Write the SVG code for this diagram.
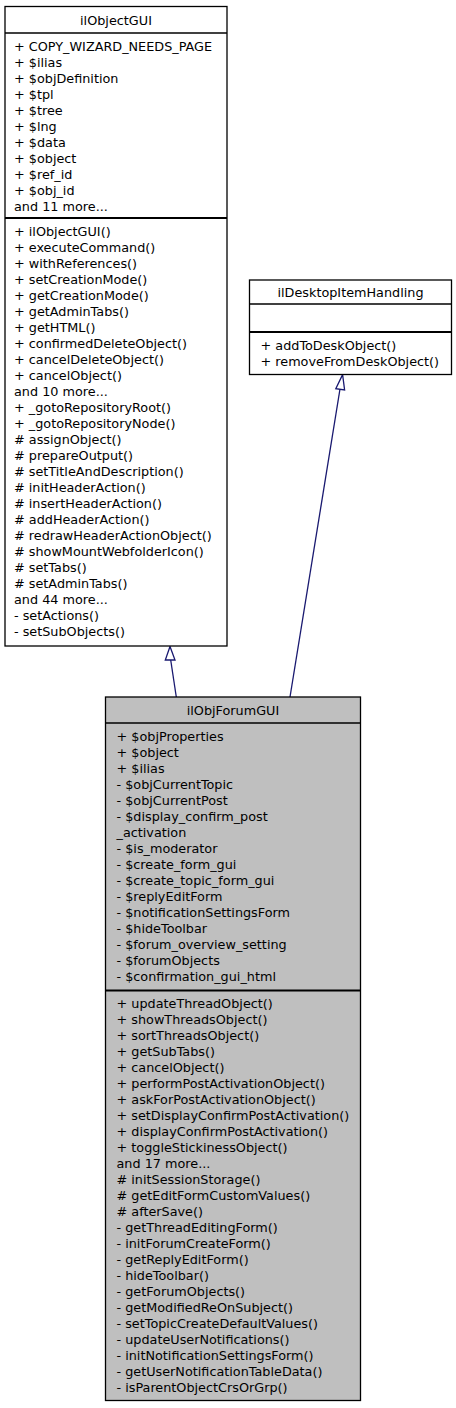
<svg xmlns="http://www.w3.org/2000/svg" width="456" height="1408" viewBox="0 0 456 1408">
<style>
text{font-family:"DejaVu Sans","Liberation Sans",sans-serif;font-size:12.8px;fill:#000}
.t{text-anchor:middle}
.box{stroke:#000;stroke-width:1.3;fill:#fff}
.grey{fill:#bfbfbf}
.sep1{stroke:#000;stroke-width:1.3}
.sep2{stroke:#000;stroke-width:2}
.edge{stroke:#191970;stroke-width:1.3;fill:none}
.head{stroke:#191970;stroke-width:1.3;fill:#fff}
</style>
<rect width="456" height="1408" fill="#fff"/>
<g id="connectors">
<path class="edge" d="M170.7,660 L176.3,697"/>
<polygon class="head" points="170,646.5 165.3,660 175,660"/>
<path class="edge" d="M340,389 L290,697"/>
<polygon class="head" points="342.6,374.6 335.8,388.7 344.6,390"/>
</g>
<g id="ilObjectGUI">
<rect class="box" x="5" y="6.5" width="222" height="639.5"/>
<line class="sep1" x1="5" y1="33" x2="227" y2="33"/>
<line class="sep2" x1="5" y1="218" x2="227" y2="218"/>
<text class="t" x="116" y="24.5">ilObjectGUI</text>
<text x="14" y="51">+ COPY_WIZARD_NEEDS_PAGE</text>
<text x="14" y="67">+ $ilias</text>
<text x="14" y="83">+ $objDefinition</text>
<text x="14" y="99">+ $tpl</text>
<text x="14" y="115">+ $tree</text>
<text x="14" y="131">+ $lng</text>
<text x="14" y="147">+ $data</text>
<text x="14" y="163">+ $object</text>
<text x="14" y="179">+ $ref_id</text>
<text x="14" y="195">+ $obj_id</text>
<text x="14" y="211">and 11 more...</text>
<text x="14" y="236">+ ilObjectGUI()</text>
<text x="14" y="252">+ executeCommand()</text>
<text x="14" y="268">+ withReferences()</text>
<text x="14" y="284">+ setCreationMode()</text>
<text x="14" y="300">+ getCreationMode()</text>
<text x="14" y="316">+ getAdminTabs()</text>
<text x="14" y="332">+ getHTML()</text>
<text x="14" y="348">+ confirmedDeleteObject()</text>
<text x="14" y="364">+ cancelDeleteObject()</text>
<text x="14" y="380">+ cancelObject()</text>
<text x="14" y="396">and 10 more...</text>
<text x="14" y="412">+ _gotoRepositoryRoot()</text>
<text x="14" y="428">+ _gotoRepositoryNode()</text>
<text x="14" y="444"># assignObject()</text>
<text x="14" y="460"># prepareOutput()</text>
<text x="14" y="476"># setTitleAndDescription()</text>
<text x="14" y="492"># initHeaderAction()</text>
<text x="14" y="508"># insertHeaderAction()</text>
<text x="14" y="524"># addHeaderAction()</text>
<text x="14" y="540"># redrawHeaderActionObject()</text>
<text x="14" y="556"># showMountWebfolderIcon()</text>
<text x="14" y="572"># setTabs()</text>
<text x="14" y="588"># setAdminTabs()</text>
<text x="14" y="604">and 44 more...</text>
<text x="14" y="620">- setActions()</text>
<text x="14" y="636">- setSubObjects()</text>
</g>
<g id="ilDesktopItemHandling">
<rect class="box" x="249.5" y="280" width="202" height="94.5"/>
<line class="sep1" x1="249.5" y1="304" x2="451.5" y2="304"/>
<line class="sep2" x1="249.5" y1="332" x2="451.5" y2="332"/>
<text class="t" x="350.5" y="297">ilDesktopItemHandling</text>
<text x="260.5" y="349.5">+ addToDeskObject()</text>
<text x="260.5" y="365.5">+ removeFromDeskObject()</text>
</g>
<g id="ilObjForumGUI">
<rect class="box grey" x="105.5" y="697" width="255" height="703.5"/>
<line class="sep1" x1="105.5" y1="723" x2="360.5" y2="723"/>
<line class="sep2" x1="105.5" y1="990.5" x2="360.5" y2="990.5"/>
<text class="t" x="233" y="715">ilObjForumGUI</text>
<text x="116.5" y="741">+ $objProperties</text>
<text x="116.5" y="757">+ $object</text>
<text x="116.5" y="773">+ $ilias</text>
<text x="116.5" y="789">- $objCurrentTopic</text>
<text x="116.5" y="805">- $objCurrentPost</text>
<text x="116.5" y="821">- $display_confirm_post</text>
<text x="116.5" y="837">_activation</text>
<text x="116.5" y="853">- $is_moderator</text>
<text x="116.5" y="869">- $create_form_gui</text>
<text x="116.5" y="885">- $create_topic_form_gui</text>
<text x="116.5" y="901">- $replyEditForm</text>
<text x="116.5" y="917">- $notificationSettingsForm</text>
<text x="116.5" y="933">- $hideToolbar</text>
<text x="116.5" y="949">- $forum_overview_setting</text>
<text x="116.5" y="965">- $forumObjects</text>
<text x="116.5" y="981">- $confirmation_gui_html</text>
<text x="116.5" y="1008">+ updateThreadObject()</text>
<text x="116.5" y="1024">+ showThreadsObject()</text>
<text x="116.5" y="1040">+ sortThreadsObject()</text>
<text x="116.5" y="1056">+ getSubTabs()</text>
<text x="116.5" y="1072">+ cancelObject()</text>
<text x="116.5" y="1088">+ performPostActivationObject()</text>
<text x="116.5" y="1104">+ askForPostActivationObject()</text>
<text x="116.5" y="1120">+ setDisplayConfirmPostActivation()</text>
<text x="116.5" y="1136">+ displayConfirmPostActivation()</text>
<text x="116.5" y="1152">+ toggleStickinessObject()</text>
<text x="116.5" y="1168">and 17 more...</text>
<text x="116.5" y="1184"># initSessionStorage()</text>
<text x="116.5" y="1200"># getEditFormCustomValues()</text>
<text x="116.5" y="1216"># afterSave()</text>
<text x="116.5" y="1232">- getThreadEditingForm()</text>
<text x="116.5" y="1248">- initForumCreateForm()</text>
<text x="116.5" y="1264">- getReplyEditForm()</text>
<text x="116.5" y="1280">- hideToolbar()</text>
<text x="116.5" y="1296">- getForumObjects()</text>
<text x="116.5" y="1312">- getModifiedReOnSubject()</text>
<text x="116.5" y="1328">- setTopicCreateDefaultValues()</text>
<text x="116.5" y="1344">- updateUserNotifications()</text>
<text x="116.5" y="1360">- initNotificationSettingsForm()</text>
<text x="116.5" y="1376">- getUserNotificationTableData()</text>
<text x="116.5" y="1392">- isParentObjectCrsOrGrp()</text>
</g>
</svg>
